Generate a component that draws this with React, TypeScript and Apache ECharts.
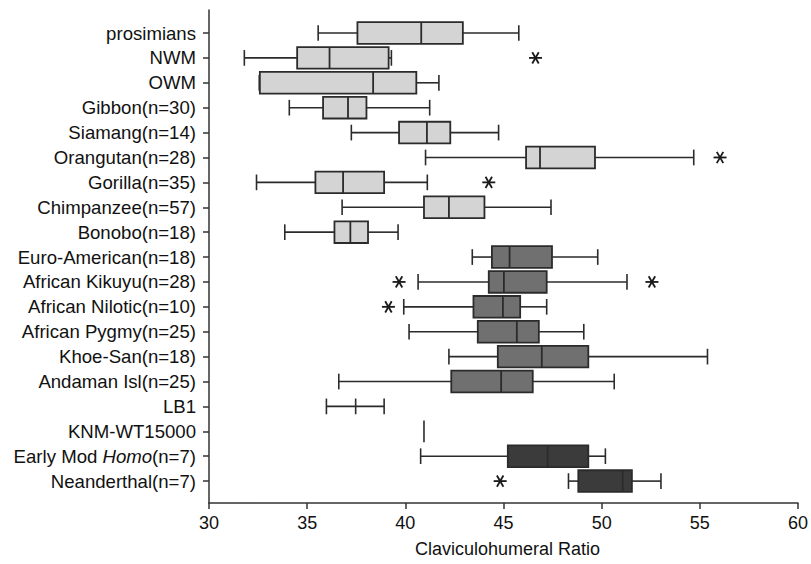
import React, { useEffect, useRef } from 'react';
import * as echarts from 'echarts';

const categories = [
  'prosimians', 'NWM', 'OWM', 'Gibbon(n=30)', 'Siamang(n=14)', 'Orangutan(n=28)',
  'Gorilla(n=35)', 'Chimpanzee(n=57)', 'Bonobo(n=18)', 'Euro-American(n=18)',
  'African Kikuyu(n=28)', 'African Nilotic(n=10)', 'African Pygmy(n=25)', 'Khoe-San(n=18)',
  'Andaman Isl(n=25)', 'LB1', 'KNM-WT15000', 'Early Mod Homo(n=7)', 'Neanderthal(n=7)',
];
const lows = [35.56, 31.8, 32.56, 34.09, 37.25, 41.03, 32.42, 36.78, 33.86, 43.41, 40.65, 39.92, 40.19, 42.22, 36.61, 35.98, null, 40.78, 48.31];
const q1s = [37.56, 34.49, 32.59, 35.81, 39.68, 46.15, 35.42, 40.95, 36.39, 44.41, 44.25, 43.47, 43.69, 44.71, 42.34, null, null, 45.22, 48.81];
const medians = [40.81, 36.14, 38.36, 37.08, 41.1, 46.86, 36.83, 42.22, 37.2, 45.31, 45.02, 44.97, 45.68, 46.95, 44.88, 37.47, 40.95, 47.25, 51.07];
const q3s = [42.93, 39.15, 40.56, 38.02, 42.29, 49.66, 38.92, 44.03, 38.1, 47.47, 47.2, 45.85, 46.8, 49.32, 46.49, null, null, 49.32, 51.54];
const highs = [45.78, 39.29, 41.71, 41.24, 44.75, 54.69, 41.12, 47.42, 39.63, 49.8, 51.29, 47.2, 49.09, 55.39, 50.64, 38.92, null, 50.19, 53.02];
const groups = ['light', 'light', 'light', 'light', 'light', 'light', 'light', 'light', 'light', 'mid', 'mid', 'mid', 'mid', 'mid', 'mid', 'none', 'none', 'dark', 'dark'];
const outlierIdx = [1, 5, 6, 10, 10, 11, 18];
const outlierVals = [46.63, 56.03, 44.25, 39.68, 52.56, 39.14, 44.83];

const groupColors: Record<string, string> = { light: '#d4d4d4', mid: '#707070', dark: '#3b3b3b', none: 'none' };
const STROKE = '#2b2b2b';
const FONT = '"Liberation Sans", Arial, sans-serif';

export default function App() {
  const ref = useRef<HTMLDivElement>(null);
  useEffect(() => {
    const chart = echarts.init(ref.current!, null, { renderer: 'svg' });
    const boxData = categories.map((_, i) => [i, medians[i]]);
    const outData = outlierIdx.map((i, k) => [outlierVals[k], i]);
    const catIdx = categories.map((_, i) => i);

    const option: any = {
      animation: false,
      grid: { left: 209, right: 12, top: 10, bottom: 61 },
      xAxis: {
        type: 'value', min: 30, max: 60, interval: 5,
        axisLine: { show: true, onZero: false, lineStyle: { color: '#333', width: 1.5 } },
        axisTick: { show: true, length: 6, lineStyle: { color: '#333', width: 1.5 } },
        axisLabel: { color: '#111', fontSize: 18, fontFamily: FONT, margin: 11 },
        splitLine: { show: false },
        name: 'Claviculohumeral Ratio', nameLocation: 'middle', nameGap: 37,
        nameTextStyle: { color: '#111', fontSize: 18, fontFamily: FONT, padding: [0, 0, 0, 8] },
      },
      yAxis: {
        type: 'value', inverse: true, min: -0.924, max: 18.88,
        axisLine: { show: true, onZero: false, lineStyle: { color: '#333', width: 1.5 } },
        axisTick: { show: true, length: 6, customValues: catIdx, lineStyle: { color: '#333', width: 1.5 } },
        axisLabel: {
          customValues: catIdx, margin: 13, color: '#111', fontSize: 18.6, fontFamily: FONT,
          formatter: (v: number) => {
            const s = categories[Math.round(v)] || '';
            return s.replace('Homo', '{i|Homo}');
          },
          rich: { i: { fontStyle: 'italic', fontSize: 18.6, fontFamily: FONT, color: '#111' } },
        },
        splitLine: { show: false },
      },
      series: [
        {
          type: 'custom',
          data: boxData,
          encode: { x: 1, y: 0 },
          renderItem: (params: any, api: any) => {
            const i = params.dataIndex;
            const unit = api.size([0, 1])[1];
            const yc = api.coord([30, i])[1];
            const X = (v: number) => api.coord([v, i])[0];
            const boxH = unit * 0.87;
            const capH = unit * 0.63;
            const children: any[] = [];
            const lineStyle = { stroke: STROKE, lineWidth: 1.6 };
            const lo = lows[i], q1 = q1s[i], md = medians[i], q3 = q3s[i], hi = highs[i];
            if (lo == null && hi == null) {
              children.push({ type: 'line', shape: { x1: X(md), y1: yc - boxH / 2, x2: X(md), y2: yc + boxH / 2 }, style: lineStyle });
            } else if (q1 == null || q3 == null) {
              children.push({ type: 'line', shape: { x1: X(lo!), y1: yc, x2: X(hi!), y2: yc }, style: lineStyle });
              [lo!, md, hi!].forEach((v) => children.push({ type: 'line', shape: { x1: X(v), y1: yc - capH / 2, x2: X(v), y2: yc + capH / 2 }, style: lineStyle }));
            } else {
              children.push({ type: 'line', shape: { x1: X(lo!), y1: yc, x2: X(q1), y2: yc }, style: lineStyle });
              children.push({ type: 'line', shape: { x1: X(q3), y1: yc, x2: X(hi!), y2: yc }, style: lineStyle });
              children.push({ type: 'line', shape: { x1: X(lo!), y1: yc - capH / 2, x2: X(lo!), y2: yc + capH / 2 }, style: lineStyle });
              children.push({ type: 'line', shape: { x1: X(hi!), y1: yc - capH / 2, x2: X(hi!), y2: yc + capH / 2 }, style: lineStyle });
              children.push({ type: 'rect', shape: { x: X(q1), y: yc - boxH / 2, width: X(q3) - X(q1), height: boxH }, style: { fill: groupColors[groups[i]], stroke: STROKE, lineWidth: 1.8 } });
              children.push({ type: 'line', shape: { x1: X(md), y1: yc - boxH / 2, x2: X(md), y2: yc + boxH / 2 }, style: { stroke: STROKE, lineWidth: 1.8 } });
            }
            return { type: 'group', children };
          },
        },
        {
          type: 'custom',
          data: outData,
          encode: { x: 0, y: 1 },
          renderItem: (params: any, api: any) => {
            const p = api.coord([api.value(0), api.value(1)]);
            const r = 6.5;
            const st = { stroke: '#1a1a1a', lineWidth: 1.8 };
            const children = [0, 60, 120].map((deg) => {
              const a = (deg * Math.PI) / 180;
              return { type: 'line', shape: { x1: p[0] - r * Math.cos(a), y1: p[1] - r * Math.sin(a), x2: p[0] + r * Math.cos(a), y2: p[1] + r * Math.sin(a) }, style: st };
            });
            return { type: 'group', children };
          },
        },
      ],
    };
    chart.setOption(option);
    return () => chart.dispose();
  }, []);
  return <div ref={ref} style={{ position: 'absolute', left: 0, top: 0, width: 811, height: 564, background: '#fff' }} />;
}
